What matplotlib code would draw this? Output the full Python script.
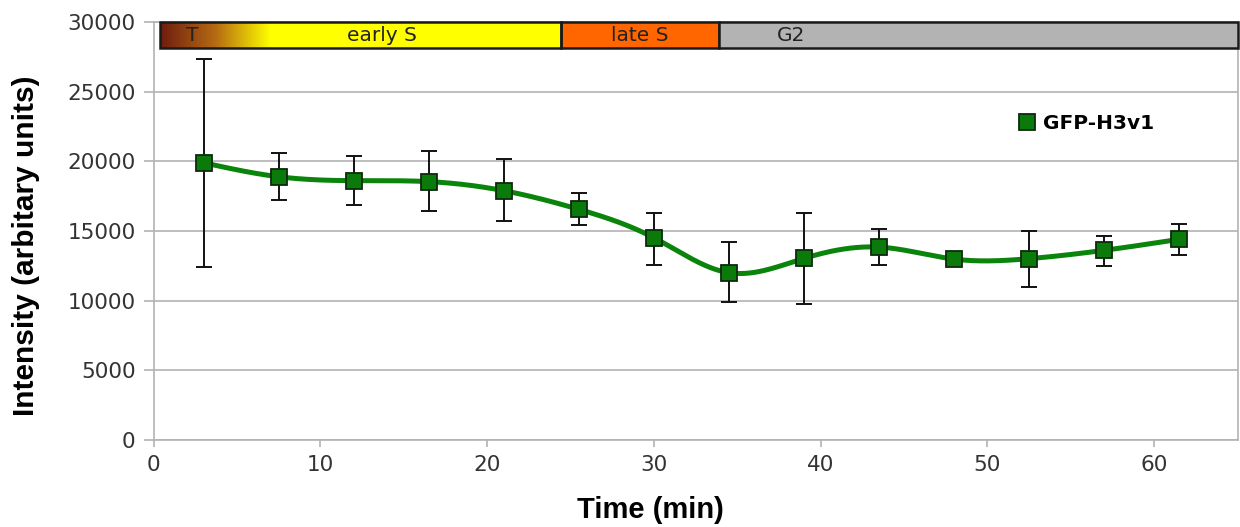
import numpy as np
import matplotlib
matplotlib.use("Agg")
import matplotlib.pyplot as plt
from matplotlib.patches import Rectangle
from matplotlib.lines import Line2D
from matplotlib.colors import LinearSegmentedColormap

# Measurements: time (min), mean intensity, error bar ends
time_min = [3.0, 7.5, 12.0, 16.5, 21.0, 25.5, 30.0, 34.5, 39.0, 43.5, 48.0, 52.5, 57.0, 61.5]
intensity = [19900, 18900, 18620, 18550, 17900, 16560, 14520, 12010, 13040, 13850, 12990, 13020, 13620, 14410]
err_upper = [27330, 20580, 20390, 20720, 20150, 17710, 16300, 14210, 16300, 15150, 13150, 15030, 14640, 15510]
err_lower = [12440, 17230, 16890, 16420, 15740, 15430, 12560, 9930, 9790, 12560, 12830, 11010, 12470, 13300]

# Cell-cycle phase bar along the top
phase_edges = [0.4, 24.4, 33.9, 65.0]
phase_names = ["early S", "late S", "G2"]
phase_colors = ["#ffff00", "#ff6600", "#b3b3b3"]
phase_label_x = [13.7, 29.15, 38.2]
t_label_x = 2.3
t_gradient_end = 7.0

series_name = "GFP-H3v1"


def natural_spline(x, y, n=600):
    x = np.asarray(x, float)
    y = np.asarray(y, float)
    m = len(x)
    h = np.diff(x)
    A = np.zeros((m, m))
    b = np.zeros(m)
    A[0, 0] = A[-1, -1] = 1.0
    for i in range(1, m - 1):
        A[i, i - 1] = h[i - 1]
        A[i, i] = 2 * (h[i - 1] + h[i])
        A[i, i + 1] = h[i]
        b[i] = 6 * ((y[i + 1] - y[i]) / h[i] - (y[i] - y[i - 1]) / h[i - 1])
    M = np.linalg.solve(A, b)
    xs = np.linspace(x[0], x[-1], n)
    idx = np.clip(np.searchsorted(x, xs) - 1, 0, m - 2)
    x0, x1 = x[idx], x[idx + 1]
    hh = x1 - x0
    t0, t1 = x1 - xs, xs - x0
    ys = (M[idx] * t0 ** 3 + M[idx + 1] * t1 ** 3) / (6 * hh) \
        + (y[idx] / hh - M[idx] * hh / 6) * t0 \
        + (y[idx + 1] / hh - M[idx + 1] * hh / 6) * t1
    return xs, ys


fig = plt.figure(figsize=(12.4, 5.27), dpi=100)
ax = fig.add_axes([0.124, 0.165, 0.874, 0.793])

ax.set_xlim(0, 65)
ax.set_ylim(0, 30000)

ax.yaxis.grid(True, color="#b3b3b3", linewidth=1.2)
ax.set_axisbelow(True)
ax.set_yticks(np.arange(0, 30001, 5000))
ax.set_xticks(np.arange(0, 61, 10))

for side in ["left", "bottom", "right", "top"]:
    ax.spines[side].set_color("#b3b3b3")
    ax.spines[side].set_linewidth(1.2)

ax.tick_params(axis="y", colors="#b3b3b3", labelcolor="#333333", labelsize=15.5,
               length=7, width=1.2, pad=6)
ax.tick_params(axis="x", colors="#b3b3b3", labelcolor="#333333", labelsize=15.5,
               length=5, width=1.2, pad=6)

# Smoothed trend line
xs, ys = natural_spline(time_min, intensity)
ax.plot(xs, ys, color="#0a840a", linewidth=3.6, zorder=3, solid_capstyle="round")

# Error bars and markers
yerr = np.array([np.array(intensity) - np.array(err_lower),
                 np.array(err_upper) - np.array(intensity)])
ax.errorbar(time_min, intensity, yerr=yerr, fmt="none", ecolor="#111111",
            elinewidth=1.4, capsize=6, capthick=1.4, zorder=4)
ax.plot(time_min, intensity, linestyle="none", marker="s", markersize=12,
        markerfacecolor="#0a7a0a", markeredgecolor="#0d2a0d", markeredgewidth=1.3,
        zorder=5)

# Phase bar
bar_lo, bar_hi = 28150, 30000
grad_cmap = LinearSegmentedColormap.from_list("tphase", ["#6e1c0f", "#b56a12", "#ffff00"])
grad = np.linspace(0, 1, 256).reshape(1, -1)
ax.imshow(grad, cmap=grad_cmap, aspect="auto", extent=(phase_edges[0], t_gradient_end, bar_lo, bar_hi),
          zorder=6, clip_on=False)
ax.add_patch(Rectangle((t_gradient_end, bar_lo), phase_edges[1] - t_gradient_end, bar_hi - bar_lo,
                       facecolor=phase_colors[0], edgecolor="none", zorder=6, clip_on=False))
for i in range(1, 3):
    ax.add_patch(Rectangle((phase_edges[i], bar_lo), phase_edges[i + 1] - phase_edges[i], bar_hi - bar_lo,
                           facecolor=phase_colors[i], edgecolor="#1a1a1a", linewidth=1.8,
                           zorder=7, clip_on=False))
ax.add_patch(Rectangle((phase_edges[0], bar_lo), phase_edges[1] - phase_edges[0], bar_hi - bar_lo,
                       facecolor="none", edgecolor="#1a1a1a", linewidth=1.8, zorder=7, clip_on=False))
ax.set_xlim(0, 65)
ax.set_ylim(0, 30000)

label_y = (bar_lo + bar_hi) / 2
ax.text(t_label_x, label_y, "T", ha="center", va="center", fontsize=14.5, color="#222222", zorder=8)
for name, lx in zip(phase_names, phase_label_x):
    ax.text(lx, label_y, name, ha="center", va="center", fontsize=14.5, color="#222222", zorder=8)

# Legend
handle = Line2D([], [], linestyle="none", marker="s", markersize=12,
                markerfacecolor="#0a7a0a", markeredgecolor="#0d2a0d", markeredgewidth=1.3)
leg = ax.legend([handle], [series_name], loc="center left", bbox_to_anchor=(0.78, 0.758),
                frameon=False, handletextpad=0.3, handlelength=1.0,
                prop={"weight": "bold", "size": 14.5})

ax.set_xlabel("Time (min)", fontsize=21, fontweight="bold", family="Liberation Sans")
ax.set_ylabel("Intensity (arbitary units)", fontsize=21.5, fontweight="bold", family="Liberation Sans")
ax.xaxis.set_label_coords((651 - 154) / 1084, -(510 - 440) / 418)
ax.yaxis.set_label_coords(-(154 - 26) / 1084, (440 - 246) / 418)
ax.xaxis.label.set_va("center")
ax.yaxis.label.set_va("center")

fig.savefig("out.png", dpi=100, facecolor="white")
